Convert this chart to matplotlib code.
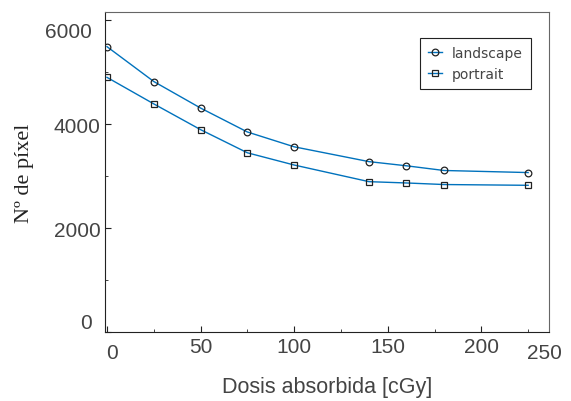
import matplotlib
matplotlib.use('Agg')
import matplotlib.pyplot as plt
from matplotlib.ticker import MultipleLocator

dosis = [0, 25, 50, 75, 100, 140, 160, 180, 225]
landscape = [5490, 4820, 4310, 3850, 3565, 3280, 3200, 3110, 3070]
portrait = [4900, 4390, 3895, 3450, 3215, 2895, 2870, 2840, 2825]

azul = '#0072BD'
gris = '#444444'

fig = plt.figure(figsize=(5.71, 4.02), dpi=100)
ax = fig.add_axes([0.1844, 0.1709, 0.7766, 0.7960])

ax.plot(dosis, landscape, '-o', color=azul, lw=1, ms=4.8, mfc='none',
        mec='#222222', mew=0.9, label='landscape')
ax.plot(dosis, portrait, '-s', color=azul, lw=1, ms=4.8, mfc='none',
        mec='#222222', mew=0.9, label='portrait')

ax.set_xlim(-0.9, 236)
ax.set_ylim(0, 6150)
ax.set_xticks([0, 50, 100, 150, 200], ['', '50', '100', '150', '200'])
ax.set_yticks([0, 2000, 4000, 6000], ['', '2000', '4000', ''])
ax.xaxis.set_minor_locator(MultipleLocator(25))
ax.yaxis.set_minor_locator(MultipleLocator(1000))
ax.tick_params(which='both', direction='in', top=False, right=False,
               labelsize=15, labelcolor=gris, color='#222222')
ax.tick_params(which='major', length=4)
ax.tick_params(which='minor', length=2.5)
for lab in ax.get_xticklabels() + ax.get_yticklabels():
    lab.set_fontfamily('Liberation Sans')

# etiquetas de las esquinas, desplazadas como en el original
esquinas = [(0.015, -0.035, '0', 'center', 'top'),
            (0.99, -0.035, '250', 'center', 'top'),
            (-0.03, 0.03, '0', 'right', 'center'),
            (-0.03, 0.94, '6000', 'right', 'center')]
for xa, ya, txt, ha, va in esquinas:
    ax.text(xa, ya, txt, transform=ax.transAxes, ha=ha, va=va,
            fontsize=15, color=gris, family='Liberation Sans')

for s in ['left', 'bottom']:
    ax.spines[s].set_color('#222222')
for s in ['top', 'right']:
    ax.spines[s].set_color('#666666')

ax.set_xlabel('Dosis absorbida [cGy]', fontsize=15.5, color=gris,
              family='Liberation Sans', labelpad=14)
ax.set_ylabel('Nº de píxel', fontsize=16, color='#222222',
              family='Liberation Serif', labelpad=14)

leg = ax.legend(loc='upper right', bbox_to_anchor=(0.975, 0.942), fontsize=10,
                handlelength=1.0, handletextpad=0.7, borderpad=0.6,
                fancybox=False, framealpha=1, edgecolor='#222222')
for t in leg.get_texts():
    t.set_color(gris)
leg.get_frame().set_linewidth(0.8)

fig.savefig('out.png', dpi=100)
